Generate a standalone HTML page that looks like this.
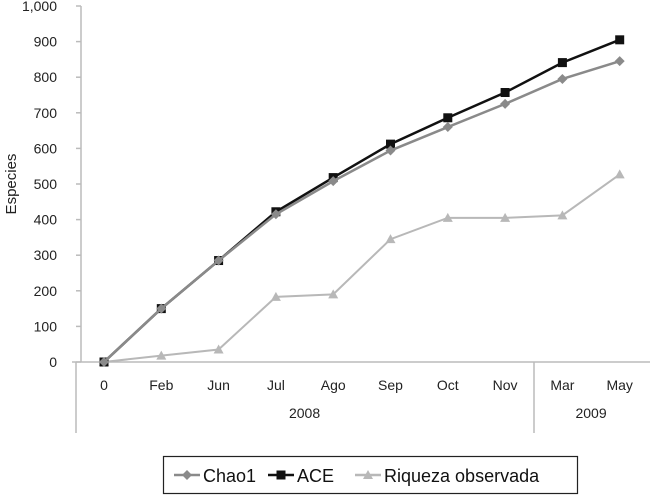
<!DOCTYPE html>
<html><head><meta charset="utf-8"><style>
body{margin:0;background:#fff;}
svg{display:block;font-family:"Liberation Sans",sans-serif;}
</style></head><body>
<svg id="chart" width="650" height="495">
<g id="axes"></g><g id="series"></g>
</svg>
<script>
const categories=["0","Feb","Jun","Jul","Ago","Sep","Oct","Nov","Mar","May"];
const chao1=[0,150,285,415,508,594,660,725,795,845];
const ace=[0,150,285,422,518,612,686,757,841,905];
const riqueza=[0,18,35,183,190,345,405,405,412,527];
const yTicks=[0,100,200,300,400,500,600,700,800,900,1000];
const yTickLabels=["0","100","200","300","400","500","600","700","800","900","1,000"];
const years=[{label:"2008",from:0,to:7},{label:"2009",from:8,to:9}];

const NS="http://www.w3.org/2000/svg";
const svg=document.getElementById('chart');
const axes=document.getElementById('axes');
const ser=document.getElementById('series');
const x0=104,dx=57.3,yBase=362,yTop=6;
const xS=i=>x0+i*dx;
const yS=v=>yBase-(v/1000)*(yBase-yTop);
function mk(tag,attrs,parent,text){const e=document.createElementNS(NS,tag);for(const k in attrs)e.setAttribute(k,attrs[k]);if(text!==undefined)e.textContent=text;parent.appendChild(e);return e;}

const ya=mk('line',{x1:81,y1:yTop,x2:81,y2:yBase,stroke:'#bbb','stroke-width':1.5},axes);

yTicks.forEach((t,i)=>{
 const tk=mk('line',{x1:76,y1:yS(t),x2:81,y2:yS(t),stroke:'#bbb','stroke-width':1.5},axes);
 
 const lb=mk('text',{x:57,y:yS(t)+5,'text-anchor':'end','font-size':14,fill:'#222'},axes,yTickLabels[i]);
 
});
const yt=mk('text',{transform:'translate(16,184) rotate(-90)','text-anchor':'middle','font-size':15,fill:'#222'},axes,'Especies');

const xa=mk('line',{x1:72,y1:yBase,x2:650,y2:yBase,stroke:'#bbb','stroke-width':1.5},axes);

[76,534].forEach(x=>{const s=mk('line',{x1:x,y1:yBase,x2:x,y2:433,stroke:'#bbb','stroke-width':1.5},axes);
 });
categories.forEach((c,i)=>{const t=mk('text',{x:xS(i),y:390,'text-anchor':'middle','font-size':14,fill:'#222'},axes,c);
 });
years.forEach(y=>{const t=mk('text',{x:(xS(y.from)+xS(y.to))/2,y:418,'text-anchor':'middle','font-size':14,fill:'#222'},axes,y.label);
 });

function marker(type,x,y,color,g){
 if(type==='sq')return mk('rect',{x:x-4.5,y:y-4.5,width:9,height:9,fill:color},g);
 if(type==='di')return mk('polygon',{points:`${x},${y-5} ${x+5},${y} ${x},${y+5} ${x-5},${y}`,fill:color},g);
 return mk('polygon',{points:`${x},${y-5} ${x+5},${y+4} ${x-5},${y+4}`,fill:color},g);
}
function series(vals,color,type,name,w){
 const g=mk('g',{},ser);
 const l=mk('polyline',{points:vals.map((v,i)=>xS(i)+','+yS(v)).join(' '),fill:'none',stroke:color,'stroke-width':w},g);
 
 vals.forEach((v,i)=>{const m=marker(type,xS(i),yS(v),color,g);});
}
series(riqueza,'#b8b8b8','tri','riqueza-series',2);
series(ace,'#111','sq','ace-series',2.5);
series(chao1,'#8a8a8a','di','chao1-series',2.5);

const lg=mk('g',{},svg);
mk('rect',{x:163.5,y:456.5,width:414,height:37,fill:'#fff',stroke:'#222','stroke-width':1.2},lg);
const items=[["Chao1",'#8a8a8a','di',174],["ACE",'#111','sq',268],["Riqueza observada",'#b8b8b8','tri',355]];
items.forEach(it=>{const g=mk('g',{},lg);
 mk('line',{x1:it[3],y1:475,x2:it[3]+26,y2:475,stroke:it[1],'stroke-width':2.5},g);
 marker(it[2],it[3]+13,475,it[1],g);
 mk('text',{x:it[3]+29,y:482,'font-size':18,fill:'#111'},g,it[0]);});
</script>
</body></html>
